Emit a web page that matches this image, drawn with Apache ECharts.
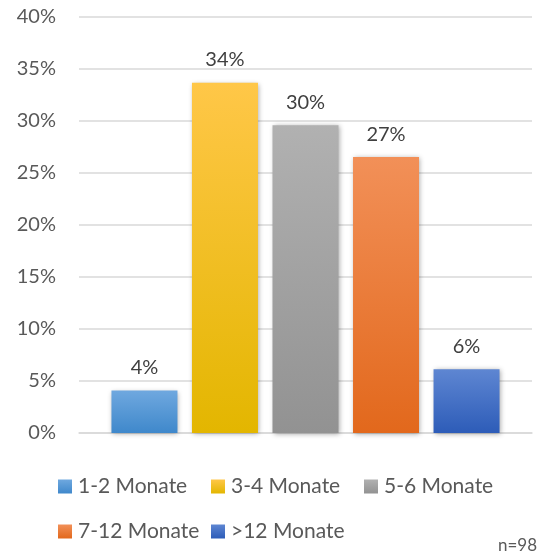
<!DOCTYPE html>
<html>
<head>
<meta charset="utf-8">
<script src="https://cdn.jsdelivr.net/npm/echarts@6/dist/echarts.min.js"></script>
<style>html,body{margin:0;padding:0;background:#fff}#c{width:547px;height:555px}</style>
</head>
<body>
<div id="c"></div>
<script>
const seriesNames = ['1-2 Monate', '3-4 Monate', '5-6 Monate', '7-12 Monate', '>12 Monate'];
const seriesValues = [4.08, 33.67, 29.59, 26.53, 6.12];
const yTicks = [0, 5, 10, 15, 20, 25, 30, 35, 40];
const gradientTops = ['#6FA8DF', '#FFC748', '#B1B1B1', '#F29058', '#5E86D2'];
const gradientBottoms = ['#3F88CB', '#E3B600', '#929292', '#E2681C', '#2D5CB8'];
const legendPos = [[58, 476], [211, 476], [364, 476], [58, 521], [211, 521]];

const FONT = 'Lato';
const chart = echarts.init(document.getElementById('c'), null, {renderer: 'canvas'});

const series = seriesNames.map((name, i) => ({
  name: name,
  type: 'bar',
  data: [seriesValues[i]],
  barWidth: 66,
  barGap: '22%',
  itemStyle: {
    color: new echarts.graphic.LinearGradient(0, 0, 0, 1, [
      {offset: 0, color: gradientTops[i]},
      {offset: 1, color: gradientBottoms[i]}
    ]),
    shadowBlur: 5,
    shadowColor: 'rgba(0,0,0,0.35)',
    shadowOffsetX: 1,
    shadowOffsetY: 1
  },
  label: {
    show: true,
    position: 'top',
    distance: 13,
    formatter: p => Math.round(p.value) + '%',
    color: '#404040',
    fontFamily: FONT,
    fontSize: 20
  }
}));

const legends = seriesNames.map((name, i) => ({
  data: [name],
  left: legendPos[i][0],
  top: legendPos[i][1],
  itemWidth: 14,
  itemHeight: 14,
  padding: 0,
  icon: 'rect',
  selectedMode: false,
  textStyle: {color: '#595959', fontFamily: FONT, fontSize: 21, padding: [0, 0, 0, 1]}
}));

chart.setOption({
  animation: false,
  textStyle: {fontFamily: FONT},
  grid: {left: 79, right: 15, top: 17, bottom: 122, containLabel: false},
  legend: legends,
  xAxis: {
    type: 'category',
    data: [''],
    axisLine: {show: true, lineStyle: {color: '#D9D9D9', width: 1.5}},
    axisTick: {show: false},
    axisLabel: {show: false}
  },
  yAxis: {
    type: 'value',
    min: yTicks[0],
    max: yTicks[yTicks.length - 1],
    interval: 5,
    axisLine: {show: false},
    axisTick: {show: false},
    splitLine: {lineStyle: {color: '#D9D9D9', width: 1.5}},
    axisLabel: {
      formatter: '{value}%',
      color: '#595959',
      fontFamily: FONT,
      fontSize: 20,
      margin: 23
    }
  },
  graphic: [{
    type: 'text',
    right: 10,
    top: 537,
    style: {text: 'n=98', fill: '#595959', font: '17px ' + FONT}
  }],
  series: series
});
</script>
</body>
</html>
